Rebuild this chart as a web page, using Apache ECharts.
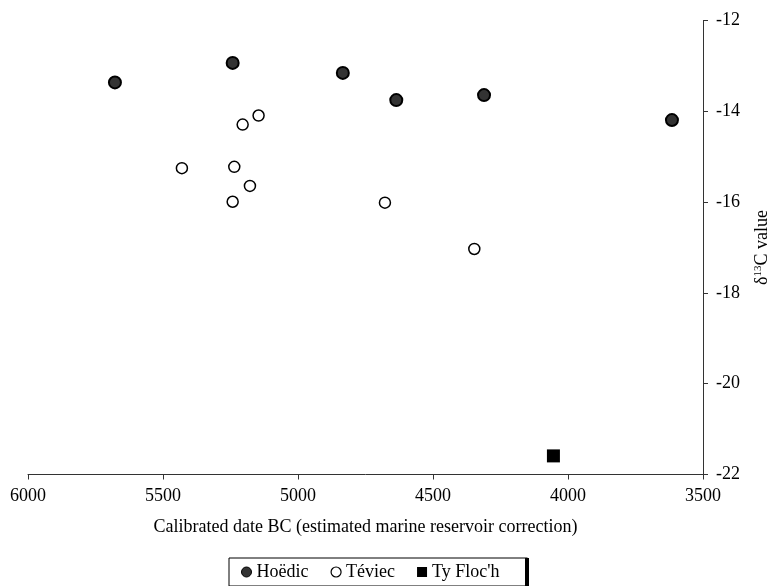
<!DOCTYPE html>
<html>
<head>
<meta charset="utf-8">
<script src="https://cdn.jsdelivr.net/npm/echarts@6/dist/echarts.min.js"></script>
<style>
html,body{margin:0;padding:0;background:#fff;}
#chart{width:771px;height:586px;}
</style>
</head>
<body>
<div id="chart"></div>
<script>
// Data: [calibrated date BC, δ13C]
var hoedic = [[5678, -13.36], [5242, -12.93], [4834, -13.15], [4636, -13.75], [4311, -13.64], [3615, -14.19]];
var teviec = [[5146, -14.09], [5205, -14.29], [5430, -15.25], [5236, -15.22], [5178, -15.64], [5242, -15.99], [4678, -16.01], [4347, -17.03]];
var tyFloch = [[4054, -21.59]];
var seriesNames = ['Hoëdic', 'Téviec', "Ty Floc'h"];
var xTitle = 'Calibrated date BC (estimated marine reservoir correction)';

var FONT = '"Liberation Serif", "Times New Roman", serif';
var chart = echarts.init(document.getElementById('chart'), null, {renderer: 'canvas'});
chart.setOption({
  backgroundColor: '#fff',
  animation: false,
  textStyle: {fontFamily: FONT, color: '#000'},
  grid: {left: 28, right: 68, top: 20.7, bottom: 111.5, containLabel: false, outerBoundsMode: 'none'},
  graphic: [
    {type: 'rect', left: 525, top: 558, shape: {width: 4, height: 28}, style: {fill: '#000'}, z: 10}
  ],
  legend: {
    data: [
      {name: seriesNames[0], itemStyle: {color: '#333', borderColor: '#000', borderWidth: 1}},
      {name: seriesNames[1], itemStyle: {color: '#fff', borderColor: '#000', borderWidth: 1.2},
        textStyle: {fontFamily: FONT, fontSize: 18, color: '#000', padding: [0, 10, 0, 0]}},
      {name: seriesNames[2]}
    ],
    left: 229, top: 558,
    orient: 'horizontal',
    padding: [5, 28, 5, 12],
    itemGap: 22,
    itemWidth: 10, itemHeight: 10,
    borderColor: '#000', borderWidth: 1,
    backgroundColor: '#fff',
    textStyle: {fontFamily: FONT, fontSize: 18, color: '#000'}
  },
  xAxis: {
    type: 'value', inverse: true, min: 3500, max: 6000, interval: 500,
    name: xTitle, nameLocation: 'middle', nameGap: 44,
    nameTextStyle: {fontFamily: FONT, fontSize: 18, color: '#000'},
    axisLine: {show: true, lineStyle: {color: '#333', width: 1}},
    axisTick: {show: true, inside: false, length: 5, lineStyle: {color: '#333'}},
    axisLabel: {fontFamily: FONT, fontSize: 18, color: '#000', margin: 13,
      formatter: function (v) { return String(v); }},
    splitLine: {show: false}
  },
  yAxis: {
    type: 'value', position: 'right', min: -22, max: -12, interval: 2,
    name: 'δ{sup|13}C value', nameLocation: 'middle', nameGap: 50, nameRotate: 90,
    nameTextStyle: {fontFamily: FONT, fontSize: 18, color: '#000',
      rich: {sup: {fontFamily: FONT, fontSize: 11, color: '#000', padding: [0, 0, 7, 0]}}},
    axisLine: {show: true, onZero: false, lineStyle: {color: '#333', width: 1}},
    axisTick: {show: true, inside: false, length: 5, lineStyle: {color: '#333'}},
    axisLabel: {fontFamily: FONT, fontSize: 18, color: '#000', margin: 13,
      formatter: function (v) { return String(v); }},
    splitLine: {show: false}
  },
  series: [
    {
      name: seriesNames[0], type: 'scatter', data: hoedic,
      symbol: 'circle', symbolSize: 12,
      itemStyle: {color: '#333', borderColor: '#000', borderWidth: 2, opacity: 1}
    },
    {
      name: seriesNames[1], type: 'scatter', data: teviec,
      symbol: 'circle', symbolSize: 11,
      itemStyle: {color: '#fff', borderColor: '#000', borderWidth: 1.5, opacity: 1}
    },
    {
      name: seriesNames[2], type: 'scatter', data: tyFloch,
      symbol: 'rect', symbolSize: 13,
      itemStyle: {color: '#000', borderColor: '#000', borderWidth: 0, opacity: 1}
    }
  ]
});
</script>
</body>
</html>
